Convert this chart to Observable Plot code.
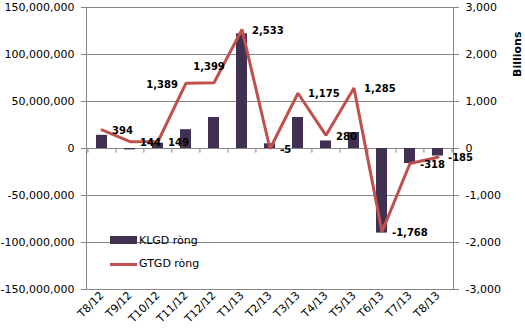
<!DOCTYPE html>
<html>
<head>
<meta charset="utf-8">
<script src="https://cdn.jsdelivr.net/npm/d3@7"></script>
<script src="https://cdn.jsdelivr.net/npm/@observablehq/plot@0.6"></script>
<style>
  html, body { margin: 0; padding: 0; background: #fff; }
  #wrap { position: relative; width: 525px; height: 336px; font-family: "DejaVu Sans", sans-serif; }
  .lg { position: absolute; font-size: 11px; color: #000; line-height: 1; }
</style>
</head>
<body>
<div id="wrap"></div>
<script>
const months = ["T8/12","T9/12","T10/12","T11/12","T12/12","T1/13","T2/13","T3/13","T4/13","T5/13","T6/13","T7/13","T8/13"];
const klgd = [14e6, -1.5e6, 5.5e6, 20e6, 33e6, 122e6, 5e6, 33e6, 8e6, 17e6, -90e6, -16e6, -8e6];
const gtgd = [394, 144, 149, 1389, 1399, 2533, -5, 1175, 280, 1285, -1768, -318, -185];
const leftTicks = [-150e6, -100e6, -50e6, 0, 50e6, 100e6, 150e6];
const ratio = 50000; // 1,000 billions on right axis == 50,000,000 on left axis

const data = months.map((m, i) => ({m, k: klgd[i], g: gtgd[i], gy: gtgd[i] * ratio, i}));
const W = 525, ML = 86, MR = 72;
const bw = (W - ML - MR) / months.length;
const f0 = d3.format(",");
const fmt = d => f0(d).replace("\u2212", "-");

const normal = data.filter(d => d.i !== 3 && d.i !== 4);
const gray = "#868686";

const chart = Plot.plot({
  width: W, height: 336,
  marginLeft: ML, marginRight: MR, marginTop: 7, marginBottom: 47,
  style: {fontFamily: "DejaVu Sans, sans-serif", fontSize: "11px", color: "#000", background: "#fff"},
  x: {domain: months, paddingInner: 0.6, paddingOuter: 0.3, label: null},
  y: {domain: [-150e6, 150e6], label: null},
  marks: [
    Plot.ruleY(leftTicks, {stroke: gray, strokeWidth: 1}),
    Plot.frame({stroke: gray}),
    Plot.axisY({ticks: leftTicks, tickSize: 5, tickPadding: 7, tickFormat: fmt, stroke: gray, fontSize: 11, label: null}),
    Plot.axisY({anchor: "right", ticks: leftTicks, tickSize: 5, tickPadding: 7, tickFormat: d => fmt(d / ratio), stroke: gray, fontSize: 11, label: null}),
    Plot.axisX({anchor: "bottom", tickSize: 0, tickPadding: 4, tickRotate: -45, fontSize: 11, label: null}),
    Plot.ruleX(months, {x: d => d, y1: 0, y2: -5e6, dx: -bw / 2, stroke: gray}),
    Plot.ruleX([months[months.length - 1]], {x: d => d, y1: 0, y2: -5e6, dx: bw / 2, stroke: gray}),
    Plot.barY(data, {x: "m", y: "k", fill: "#403152"}),
    Plot.line(data, {x: "m", y: "gy", stroke: "#C0504D", strokeWidth: 3, strokeLinejoin: "miter"}),
    Plot.text(normal, {x: "m", y: "gy", text: d => fmt(d.g), dx: 10, dy: 1, textAnchor: "start", fontWeight: "bold", fontSize: 10, fill: "#000"}),
    Plot.text(data.filter(d => d.i === 3), {x: "m", y: "gy", text: d => fmt(d.g), dx: -8, dy: 2, textAnchor: "end", fontWeight: "bold", fontSize: 10, fill: "#000"}),
    Plot.text(data.filter(d => d.i === 4), {x: "m", y: "gy", text: d => fmt(d.g), dx: -5, dy: -16, textAnchor: "middle", fontWeight: "bold", fontSize: 10, fill: "#000"}),
    Plot.text(["Billions"], {frameAnchor: "top-right", text: d => d, dx: 60, dy: 24, rotate: -90, fontWeight: "bold", fontSize: 11, fill: "#000"})
  ]
});
const wrap = document.getElementById("wrap");
wrap.appendChild(chart);

const legend = [
  {label: "KLGD ròng", type: "bar", top: 236},
  {label: "GTGD ròng", type: "line", top: 259}
];
legend.forEach(l => {
  const sw = document.createElement("div");
  sw.style.position = "absolute";
  sw.style.left = "110px";
  sw.style.width = "27px";
  if (l.type === "bar") { sw.style.top = l.top + "px"; sw.style.height = "8px"; sw.style.background = "#403152"; }
  else { sw.style.top = (l.top + 4) + "px"; sw.style.height = "3px"; sw.style.background = "#C0504D"; }
  wrap.appendChild(sw);
  const t = document.createElement("div");
  t.className = "lg";
  t.textContent = l.label;
  t.style.left = "139px";
  t.style.top = (l.top - 1) + "px";
  wrap.appendChild(t);
});
</script>
</body>
</html>
